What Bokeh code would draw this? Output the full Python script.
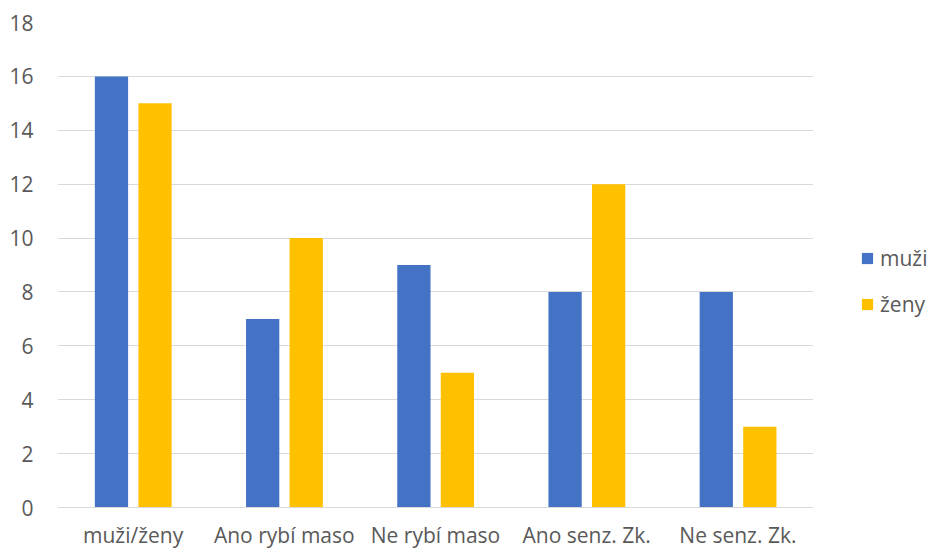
from bokeh.plotting import figure
from bokeh.models import ColumnDataSource, FactorRange, Range1d, Legend, LegendItem, FixedTicker
from bokeh.transform import dodge
from bokeh.layouts import row
from bokeh.embed import file_html
from bokeh.resources import INLINE

categories = ["muži/ženy", "Ano rybí maso", "Ne rybí maso", "Ano senz. Zk.", "Ne senz. Zk."]
muzi = [16, 7, 9, 8, 8]
zeny = [15, 10, 5, 12, 3]
series_names = ["muži", "ženy"]
y_ticks = [0, 2, 4, 6, 8, 10, 12, 14, 16, 18]

FONT = "Open Sans"
TXT = "#595959"
GRID = "#D9D9D9"
BLUE = "#4472C4"
GOLD = "#FFC000"

src = ColumnDataSource(dict(cat=categories, muzi=muzi, zeny=zeny))

p = figure(frame_width=756, frame_height=485, x_range=FactorRange(*categories, range_padding=0),
           y_range=Range1d(0, 18), output_backend="svg", toolbar_location=None,
           min_border_left=57, min_border_right=0, min_border_top=22, min_border_bottom=42)
p.outline_line_color = None

p.vbar(x=dodge("cat", -0.143, range=p.x_range), top="muzi", width=0.22, source=src,
       fill_color=BLUE, line_color=None)
p.vbar(x=dodge("cat", 0.145, range=p.x_range), top="zeny", width=0.22, source=src,
       fill_color=GOLD, line_color=None)

p.yaxis.ticker = FixedTicker(ticks=y_ticks)
p.ygrid.grid_line_color = GRID
p.ygrid.grid_line_width = 1
p.xgrid.grid_line_color = None
p.yaxis.axis_line_color = None
p.yaxis.major_tick_line_color = None
p.yaxis.minor_tick_line_color = None
p.yaxis.major_tick_out = 0
p.yaxis.minor_tick_out = 0
p.yaxis.major_label_standoff = 24
p.xaxis.axis_line_color = GRID
p.xaxis.major_tick_line_color = None
p.xaxis.minor_tick_line_color = None
p.xaxis.major_tick_out = 0
p.xaxis.minor_tick_out = 0
p.xaxis.major_label_standoff = 13
for ax in (p.xaxis, p.yaxis):
    ax.major_label_text_font = FONT
    ax.major_label_text_font_size = "21px"
    ax.major_label_text_color = TXT

# legend panel: a separate small figure to the right of the chart;
# its helper bars have no height value (NaN) so nothing is drawn but the legend
key_src = ColumnDataSource(dict(cat=categories, blank=[float("nan")] * len(categories)))
lg = figure(width=116, height=549, x_range=FactorRange(*categories), y_range=Range1d(0, 18),
            output_backend="svg", toolbar_location=None,
            min_border_left=0, min_border_right=0, min_border_top=0, min_border_bottom=0)
lg.outline_line_color = None
lg.axis.visible = False
lg.grid.visible = False
l1 = lg.vbar(x="cat", top="blank", width=0.2, source=key_src,
             fill_color=BLUE, line_color=None)
l2 = lg.vbar(x="cat", top="blank", width=0.2, source=key_src,
             fill_color=GOLD, line_color=None)

legend = Legend(items=[LegendItem(label=series_names[0], renderers=[l1]),
                       LegendItem(label=series_names[1], renderers=[l2])],
                location=(47, 187), orientation="vertical",
                glyph_width=14, glyph_height=14, label_height=20, spacing=18,
                label_standoff=6, padding=0, margin=0,
                border_line_color=None, background_fill_alpha=0,
                label_text_font=FONT, label_text_font_size="21px", label_text_color=TXT)
lg.add_layout(legend, "center")

open("out.html", "w").write(file_html(row(p, lg), INLINE))
